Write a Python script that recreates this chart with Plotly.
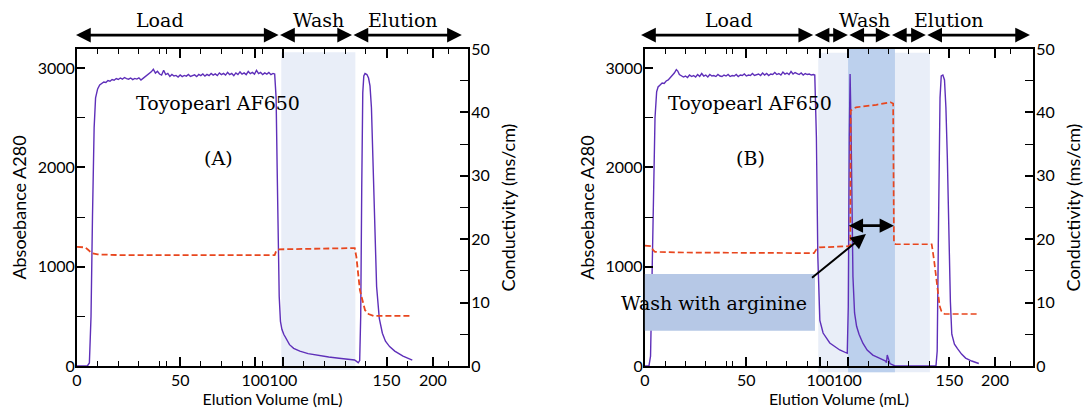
import plotly.graph_objects as go

# ---------------- data ----------------
# Panel A : Absorbance A280 (left axis) vs elution volume (mL)
a_vol = [0, 5, 6, 6.8, 7.5, 8.3, 9, 10, 11, 12, 13, 14, 15, 16, 17, 18, 19, 20, 21, 22, 23, 24, 25, 26, 27,
         28, 29, 30, 31, 32, 33, 34, 35, 36, 37, 38, 39, 40, 41, 42, 43, 44, 45, 46, 47, 48, 49, 50, 51, 52,
         53, 54, 55, 56, 57, 58, 59, 60, 61, 62, 63, 64, 65, 66, 67, 68, 69, 70, 71, 72, 73, 74, 75, 76, 77,
         78, 79, 80, 81, 82, 83, 84, 85, 86, 87, 88, 89, 90, 91, 92, 93, 94, 95, 95.8, 96.5, 97, 97.5, 98,
         98.6, 99.3, 100.2, 101.5, 103, 105, 108, 112, 117, 122, 127, 131, 134.5, 135.5, 136.3, 137, 137.5,
         138, 138.5, 139, 139.6, 140.5, 141.3, 142, 142.7, 143.4, 144.2, 145.2, 146.5, 148, 149.5, 151.5,
         154, 158, 162.5]
a_abs = [0, 0, 30, 500, 1500, 2400, 2700, 2790, 2830, 2850, 2860, 2855, 2875, 2868, 2885, 2878, 2895, 2885,
         2900, 2888, 2905, 2894, 2888, 2900, 2884, 2896, 2889, 2902, 2880, 2896, 2912, 2930, 2946, 2962, 2988,
         2950, 2968, 2940, 2930, 2978, 2935, 2946, 2915, 2936, 2920, 2926, 2910, 2931, 2914, 2926, 2919, 2936,
         2915, 2926, 2931, 2914, 2936, 2924, 2941, 2919, 2936, 2924, 2946, 2929, 2941, 2924, 2951, 2934, 2946,
         2929, 2956, 2934, 2946, 2924, 2951, 2934, 2961, 2939, 2951, 2934, 2966, 2944, 2956, 2939, 2976, 2944,
         2956, 2934, 2951, 2939, 2956, 2934, 2946, 2940, 2700, 2000, 1200, 700, 450, 370, 320, 265, 215, 178,
         150, 125, 104, 90, 78, 68, 60, 46, 32, 55, 500, 1800, 2750, 2920, 2945, 2935, 2900, 2820, 2600, 2100,
         1400, 800, 480, 330, 250, 195, 150, 100, 60]
# Panel A : conductivity (right axis)
a_cvol = [0, 4, 5.5, 7, 10, 20, 95.8, 96.6, 98, 110, 134.6, 135.4, 136.3, 137.1, 138, 138.8, 139.6, 141.3,
          143.8, 161.5]
a_cond = [18.8, 18.7, 18.3, 17.8, 17.6, 17.5, 17.5, 18.2, 18.4, 18.5, 18.6, 17.2, 14.5, 12.0, 10.8, 9.6, 8.8,
          8.2, 7.9, 7.9]

# Panel B : Absorbance A280
b_vol = [0, 2, 2.8, 3.5, 4.2, 5, 5.8, 6.5, 7.5, 8.5, 9.5, 10.5, 11.5, 12.5, 13.5, 14.5, 15.5, 16.2, 17, 18,
         19, 20, 21, 22, 23, 24, 25, 26, 27, 28, 29, 30, 31, 32, 33, 34, 35, 36, 37, 38, 39, 40, 41, 42, 43,
         44, 45, 46, 47, 48, 49, 50, 51, 52, 53, 54, 55, 56, 57, 58, 59, 60, 61, 62, 63, 64, 65, 66, 67, 68,
         69, 70, 71, 72, 73, 74, 75, 76, 77, 78, 79, 80, 81, 82, 83, 83.7, 84.5, 85.2, 86.2, 87.8, 91.1, 96,
         99.7, 100.2, 100.7, 101.1, 101.5, 102, 102.5, 103.3, 104.3, 105.5, 107.4, 109.5, 112.3, 115.5, 118.6,
         119, 119.4, 120.7, 123.2, 143.4, 144, 144.7, 145.4, 146, 146.8, 147.6, 148.3, 149, 149.8, 150.5, 151.2,
         152.5, 154, 156, 158, 161, 164.5]
b_abs = [0, 0, 100, 800, 1800, 2500, 2760, 2810, 2830, 2850, 2845, 2870, 2880, 2900, 2920, 2950, 2985, 2970,
         2935, 2925, 2910, 2920, 2905, 2930, 2915, 2925, 2910, 2935, 2915, 2945, 2920, 2930, 2910, 2935, 2920,
         2925, 2915, 2935, 2920, 2915, 2930, 2920, 2935, 2915, 2925, 2920, 2935, 2915, 2930, 2925, 2940, 2920,
         2930, 2925, 2945, 2925, 2935, 2940, 2925, 2950, 2930, 2945, 2925, 2940, 2935, 2955, 2935, 2945, 2930,
         2960, 2940, 2950, 2935, 2965, 2940, 2955, 2945, 2935, 2950, 2930, 2945, 2935, 2940, 2930, 2935, 2930,
         2300, 1100, 460, 332, 232, 161, 128, 600, 2300, 2940, 2500, 1540, 900, 534, 400, 320, 230, 161, 110,
         80, 50, 33, 110, 25, 0, 0, 150, 1500, 2700, 2920, 2930, 2880, 2600, 2100, 1300, 650, 320, 220, 175, 120,
         80, 50, 25]
# Panel B : conductivity
b_cvol = [0, 3, 4, 5, 20, 83.3, 84.5, 86, 100.5, 101.2, 101.4, 104, 114, 121, 122.3, 122.7, 123.5, 141.3,
          142.5, 144.2, 145.2, 146, 147.6, 164.7]
b_cond = [19.0, 18.9, 18.3, 18.0, 17.9, 17.8, 18.4, 18.7, 18.9, 19.0, 40.3, 40.8, 41.2, 41.6, 41.4, 19.4,
          19.2, 19.2, 16.6, 11.8, 9.5, 8.7, 8.2, 8.2]

# tick labels of the (broken) volume axis
x_tick_vals = [0, 50, 86.5, 100, 150, 172.5]
x_tick_text = ["0", "50", "100", "100", "150", "200"]
x_minor_vals = [10, 20, 30, 40, 43.2, 60, 70, 80, 90, 110, 120, 130, 140, 160, 180]
abs_ticks = [0, 1000, 2000, 3000]
cond_ticks = [0, 10, 20, 30, 40, 50]

# phase segments (start, end, label, label position) for top arrows
a_phases = [(-1.2, 97.7, "Load", 40), (97.7, 133.3, "Wash", 117), (133.3, 186.5, "Elution", 158)]
b_phases = [(-2.6, 82.9, "Load", 41.4), (82.9, 100.0, "", None), (100.0, 121.0, "Wash", 108),
            (121.0, 138.4, "", None), (138.4, 189.7, "Elution", 150)]

PURPLE = "#5e2fb9"
RED = "#e8461e"
SERIF = "DejaVu Serif"
SANS = "Lato"

fig = go.Figure()
fig.add_trace(go.Scatter(x=a_vol, y=a_abs, mode="lines", line=dict(color=PURPLE, width=1.4),
                         xaxis="x", yaxis="y", showlegend=False))
fig.add_trace(go.Scatter(x=a_cvol, y=a_cond, mode="lines", line=dict(color=RED, width=1.8, dash="6px,3px"),
                         xaxis="x", yaxis="y2", showlegend=False))
fig.add_trace(go.Scatter(x=b_vol, y=b_abs, mode="lines", line=dict(color=PURPLE, width=1.4),
                         xaxis="x2", yaxis="y3", showlegend=False))
fig.add_trace(go.Scatter(x=b_cvol, y=b_cond, mode="lines", line=dict(color=RED, width=1.7, dash="6px,3px"),
                         xaxis="x2", yaxis="y4", showlegend=False))

TICKFONT = dict(family=SANS, size=16, color="black")
XTITLEFONT = dict(family=SANS, size=16, color="black")
YTITLEFONT = dict(family=SANS, size=18, color="black")

def xaxis_cfg(domain, rng, anchor):
    return dict(domain=domain, range=rng, anchor=anchor, showline=True, linewidth=2, linecolor="black",
                mirror="ticks", ticks="inside", ticklen=9, tickwidth=1.6, tickcolor="black",
                tickvals=x_tick_vals, ticktext=x_tick_text, tickangle=0, automargin=False,
                minor=dict(tickvals=x_minor_vals, ticks="inside", ticklen=5, tickwidth=1.4, tickcolor="black"),
                showgrid=False, zeroline=False, tickfont=TICKFONT, ticklabelstandoff=-1,
                title=dict(text="Elution Volume (mL)", font=XTITLEFONT, standoff=6))

def yleft_cfg(anchor, domain=(0, 1)):
    return dict(anchor=anchor, domain=domain, range=[0, 3192], showline=True, linewidth=2, linecolor="black",
                ticks="inside", ticklen=8, tickwidth=1.6, tickcolor="black", tickvals=abs_ticks,
                minor=dict(dtick=500, ticks="inside", ticklen=8, tickwidth=1.4, tickcolor="black"),
                showgrid=False, zeroline=False, ticklabelstandoff=-3, automargin=False,
                tickfont=TICKFONT,
                title=dict(text="Absoebance A280", font=YTITLEFONT, standoff=6))

def yright_cfg(anchor, overlay):
    return dict(anchor=anchor, overlaying=overlay, side="right", range=[0, 50], showline=True, linewidth=2,
                linecolor="black", ticks="inside", ticklen=8, tickwidth=1.6, tickcolor="black",
                tickvals=cond_ticks, automargin=False,
                minor=dict(dtick=5, ticks="inside", ticklen=8, tickwidth=1.4, tickcolor="black"),
                showgrid=False, zeroline=False, ticklabelstandoff=-2,
                tickfont=TICKFONT,
                title=dict(text="Conductivity (ms/cm)", font=YTITLEFONT, standoff=14))

fig.update_layout(
    width=1086, height=416, margin=dict(l=77, r=53, t=49, b=50, autoexpand=False),
    paper_bgcolor="white", plot_bgcolor="white", showlegend=False,
    xaxis=xaxis_cfg([0, 0.409], [0, 189.5], "y"),
    xaxis2=xaxis_cfg([0.594, 1], [0, 191.2], "y3"),
    yaxis=yleft_cfg("x"),
    yaxis2=yright_cfg("x", "y"),
    yaxis3=yleft_cfg("x2"),
    yaxis4=yright_cfg("x2", "y3"),
)

shapes = [
    dict(type="rect", xref="x", yref="y domain", x0=99.0, x1=134.9, y0=-0.012, y1=0.99,
         fillcolor="#e9eef8", line=dict(width=0), layer="below"),
    dict(type="rect", xref="x2", yref="y3 domain", x0=85.4, x1=140.4, y0=-0.02, y1=0.988,
         fillcolor="#e9eef8", line=dict(width=0), layer="below"),
    dict(type="rect", xref="x2", yref="y3 domain", x0=100.1, x1=123.2, y0=-0.02, y1=1.0,
         fillcolor="#bcd0ed", line=dict(width=0), layer="below"),
    dict(type="rect", xref="x2", yref="y3", x0=-16.0, x1=83.8, y0=356, y1=926,
         fillcolor="#b6c8e6", line=dict(width=0), layer="above"),
]
fig.update_layout(shapes=shapes)

ann = []
def phase_arrows(phases, xref, yref):
    for (s, e, lab, lx) in phases:
        ann.append(dict(x=e, y=1.044, xref=xref, yref=yref, ax=s, ay=1.044, axref=xref, ayref=yref,
                        text="", showarrow=True, arrowside="end+start", arrowhead=2, startarrowhead=2,
                        arrowsize=1.05, startarrowsize=1.05, arrowwidth=2.8, arrowcolor="black",
                        standoff=0, startstandoff=0))
        if lab:
            ann.append(dict(x=lx, y=1.091, xref=xref, yref=yref, text=lab, showarrow=False,
                            font=dict(family=SERIF, size=19, color="black"), yanchor="middle"))

phase_arrows(a_phases, "x", "y domain")
phase_arrows(b_phases, "x2", "y3 domain")

for xr, yr, cx, lab in [("x", "y", 68.4, "(A)"), ("x2", "y3", 52.0, "(B)")]:
    ann.append(dict(x=cx, y=2647, xref=xr, yref=yr, text="Toyopearl AF650", showarrow=False,
                    font=dict(family=SERIF, size=19, color="black")))
    ann.append(dict(x=cx, y=2093, xref=xr, yref=yr, text=lab, showarrow=False,
                    font=dict(family=SERIF, size=19, color="black")))

ann.append(dict(x=34.0, y=630, xref="x2", yref="y3", text="Wash with arginine", showarrow=False,
                font=dict(family=SERIF, size=19, color="black")))
# arrow from box to the arginine wash arrow
ann.append(dict(x=108.9, y=1329, xref="x2", yref="y3", ax=81.6, ay=876, axref="x2", ayref="y3", text="",
                showarrow=True, arrowhead=2, arrowsize=1.5, arrowwidth=2, arrowcolor="black", standoff=0))
# double arrow inside dark region
ann.append(dict(x=122.7, y=1413, xref="x2", yref="y3", ax=99.7, ay=1413, axref="x2", ayref="y3", text="",
                showarrow=True, arrowside="end+start", arrowhead=2, startarrowhead=2, arrowsize=1.1,
                startarrowsize=1.1, arrowwidth=2.6, arrowcolor="black", standoff=0, startstandoff=0))

fig.update_layout(annotations=ann)
fig.write_html("out.html")
